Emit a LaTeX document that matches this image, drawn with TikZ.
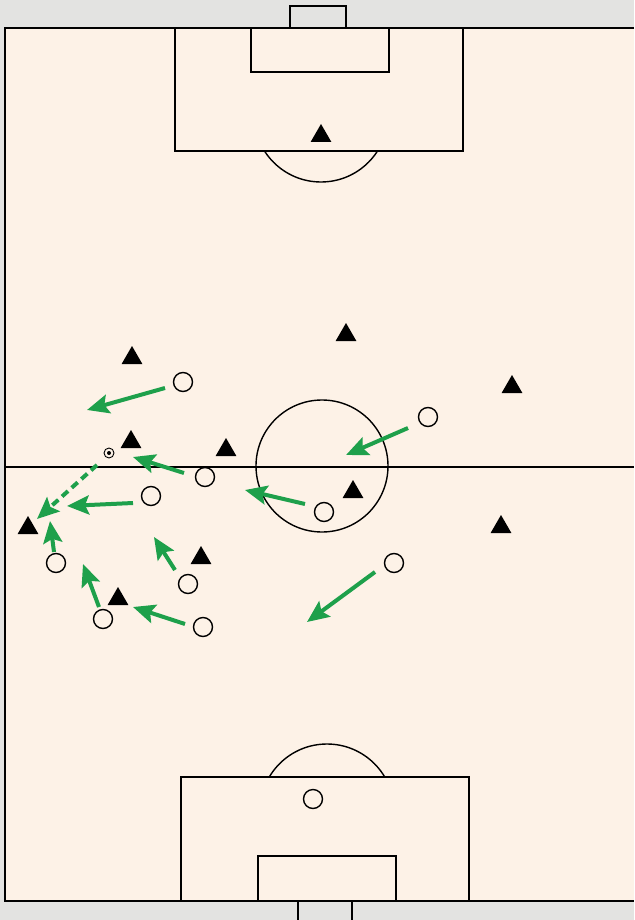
\documentclass[tikz,border=0pt]{standalone}
\usetikzlibrary{shapes.geometric, arrows.meta, positioning}
\definecolor{pitch}{RGB}{253,242,231}
\definecolor{paper}{RGB}{227,227,225}
\definecolor{rungreen}{RGB}{30,160,75}
\tikzset{
	attacker/.style={regular polygon, regular polygon sides=3, fill=black, inner sep=0pt, minimum size=24pt}
}
\tikzset{
	defender/.style={circle, draw=black, line width=1.4pt, fill=pitch, inner sep=0pt, minimum size=19pt},
	ballnode/.style={circle, draw=black, line width=0.9pt, fill=pitch, inner sep=0pt, minimum size=10pt}
}
\tikzset{
	run/.style={rungreen, line width=4pt, -{Stealth[length=22pt,width=19pt,inset=4pt]}},
	pitchline/.style={line width=1.4pt}
}

\begin{document}
\begin{tikzpicture}[x=1pt,y=-1pt]
      \fill[paper] (0,0) rectangle (634,920);
      \useasboundingbox (0,0) rectangle (634,920);
      \fill[pitch] (5,28) rectangle (634,901);
      % touch lines and halfway line
      \draw[pitchline] (634,28) -- (5,28) -- (5,901) -- (634,901);
      \draw[pitchline] (5,467) -- (634,467);
      \draw[pitchline] (322,466) circle (66);
      % top end
      \draw[pitchline] (290,28) |- (346,6) -- (346,28);
      \draw[pitchline] (175,28) rectangle (463,151);
      \draw[pitchline] (251,28) rectangle (389,72);
      \begin{scope}
        \clip (150,151) rectangle (500,200);
        \draw[pitchline] (321,115) circle (67);
      \end{scope}
      % bottom end
      \draw[pitchline] (298,920) -- (298,901);
      \draw[pitchline] (352,920) -- (352,901);
      \draw[pitchline] (181,777) rectangle (469,901);
      \draw[pitchline] (258,856) rectangle (396,901);
      \begin{scope}
        \clip (150,720) rectangle (500,777);
        \draw[pitchline] (327,811) circle (67);
      \end{scope}
      % players
      \foreach \n/\x/\y in {
        1/321/133, 2/346/332, 3/132/355, 4/512/384, 5/131/439, 6/226/447,
        7/353/489, 8/28/525, 9/501/524, 10/201/555, 11/118/596}
        \node[attacker] (t\n) at (\x,\y+3) {};
      \foreach \n/\x/\y in {
        1/183/382, 2/428/417, 3/205/477, 4/151/496, 5/324/512, 6/56/563,
        7/394/563, 8/188/584, 9/103/619, 10/203/627, 11/313/799}
        \node[defender] (c\n) at (\x,\y) {};
      \node[ballnode] (ball) at (109,453) {};
      \fill (ball.center) circle (2);
      % runs
      \foreach \n/\x/\y/\u/\v in {
        1/165/388/87/410, 2/408/428/346/455, 3/184/473/133/457,
        4/305/504/245/490, 5/133/503/67/506, 7/54/552/50/521,
        8/175/570/154/537, 9/99/607/83/564, 10/185/624/133/607,
        11/375/572/307/622}
      {
        \coordinate (s\n) at (\x,\y);
        \coordinate (e\n) at (\u,\v);
        \draw[run] (s\n) -- (e\n);
      }
      % pass
      \coordinate (s6) at (97,465);
      \coordinate (e6) at (37,519);
      \draw[run, dash pattern=on 8pt off 5pt] (s6) -- (e6);
    \end{tikzpicture}
\end{document}
